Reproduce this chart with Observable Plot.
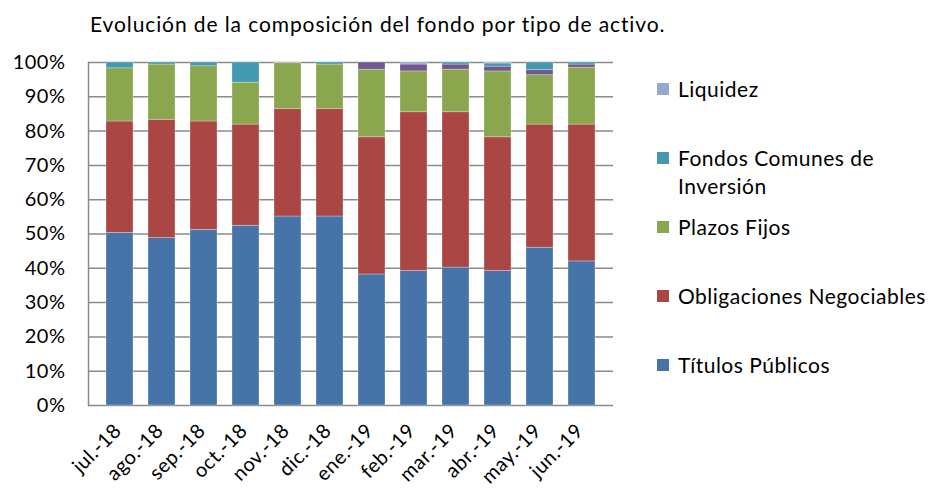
<!DOCTYPE html>
<html>
<head>
<meta charset="utf-8">
<script src="https://cdn.jsdelivr.net/npm/d3@7"></script>
<script src="https://cdn.jsdelivr.net/npm/@observablehq/plot@0.6"></script>
<style>
  html, body { margin: 0; padding: 0; background: #fff; }
  #wrap { position: relative; width: 936px; height: 488px; overflow: hidden; font-family: Lato, "Open Sans", sans-serif; color: #000; }
  #title { position: absolute; left: 90px; top: 11px; font-size: 21px; letter-spacing: 0.9px; white-space: nowrap; }
  #chart { position: absolute; left: 0; top: 45px; }
  #legend { position: absolute; left: 657px; top: 75px; font-size: 21px; letter-spacing: 0.5px; line-height: 28px; }
  .item { height: 69px; position: relative; padding-left: 21px; white-space: nowrap; }
  .sw { position: absolute; left: 0; top: 8px; width: 12px; height: 12px; }
  #chart svg text { letter-spacing: 0.5px; }
</style>
</head>
<body>
<div id="wrap">
  <div id="title"></div>
  <div id="chart"></div>
  <div id="legend"></div>
</div>
<script>
const titleText = "Evolución de la composición del fondo por tipo de activo.";
const months = ["jul.-18","ago.-18","sep.-18","oct.-18","nov.-18","dic.-18","ene.-19","feb.-19","mar.-19","abr.-19","may.-19","jun.-19"];
const seriesNames = ["Títulos Públicos","Obligaciones Negociables","Plazos Fijos","Otros","Fondos Comunes de Inversión","Liquidez"];
const seriesColors = ["#4674A8","#AA4744","#8AA64E","#715890","#4299B0","#95AAD0"];
const titulosPublicos = [50.3, 48.8, 51.2, 52.4, 55.1, 55.1, 38.2, 39.2, 40.2, 39.2, 46.0, 42.0];
const obligacionesNegociables = [32.5, 34.5, 31.6, 29.5, 31.3, 31.3, 40.0, 46.3, 45.3, 39.0, 35.9, 39.9];
const plazosFijos = [15.5, 16.1, 16.1, 12.2, 13.4, 13.0, 19.7, 11.9, 12.4, 19.2, 14.4, 16.6];
const otros = [0, 0, 0, 0, 0, 0, 2.1, 2.0, 1.5, 1.4, 1.5, 0.9];
const fondosComunes = [1.7, 0.6, 1.1, 5.9, 0, 0.6, 0, 0, 0.6, 0.9, 2.2, 0.6];
const liquidez = [0, 0, 0, 0, 0.2, 0, 0, 0.6, 0, 0.3, 0, 0];
const legendItems = ["Liquidez","Fondos Comunes de|Inversión","Plazos Fijos","Obligaciones Negociables","Títulos Públicos"];
const yTicks = [0,10,20,30,40,50,60,70,80,90,100];

const seriesValues = [titulosPublicos, obligacionesNegociables, plazosFijos, otros, fondosComunes, liquidez];
const rows = [];
seriesNames.forEach((s, i) => months.forEach((m, j) => rows.push({month: m, serie: s, value: seriesValues[i][j]})));

document.getElementById("title").textContent = titleText;

const gridColor = "#8a8a8a";
const chart = Plot.plot({
  width: 936,
  height: 443,
  marginLeft: 88,
  marginRight: 323,
  marginTop: 17,
  marginBottom: 83,
  style: {fontFamily: "Lato, 'Open Sans', sans-serif", fontSize: "20px", color: "#000", background: "transparent", overflow: "visible"},
  x: {domain: months, padding: 0.36, label: null},
  y: {domain: [0, 100], label: null},
  color: {domain: seriesNames, range: seriesColors},
  marks: [
    Plot.ruleY(yTicks, {stroke: gridColor, strokeWidth: 1.5}),
    Plot.frame({anchor: "left", stroke: gridColor, strokeWidth: 1.5}),
    Plot.barY(rows, {x: "month", y: "value", fill: "serie", stroke: "white", strokeOpacity: 0.35, strokeWidth: 0.8}),
    Plot.axisY({ticks: yTicks, tickFormat: d => d + "%", tickSize: 0, tickPadding: 23, fontSize: 20}),
    Plot.axisX({tickSize: 0, tickRotate: -45, tickPadding: 22, fontSize: 20, dx: -2})
  ]
});
document.getElementById("chart").appendChild(chart);

const legend = document.getElementById("legend");
legendItems.forEach(name => {
  const key = name.replace("|", " ");
  const div = document.createElement("div");
  div.className = "item";
  const sw = document.createElement("span");
  sw.className = "sw";
  sw.style.background = seriesColors[seriesNames.indexOf(key)];
  div.appendChild(sw);
  name.split("|").forEach((part, k) => {
    if (k > 0) div.appendChild(document.createElement("br"));
    div.appendChild(document.createTextNode(part));
  });
  legend.appendChild(div);
});
</script>
</body>
</html>
